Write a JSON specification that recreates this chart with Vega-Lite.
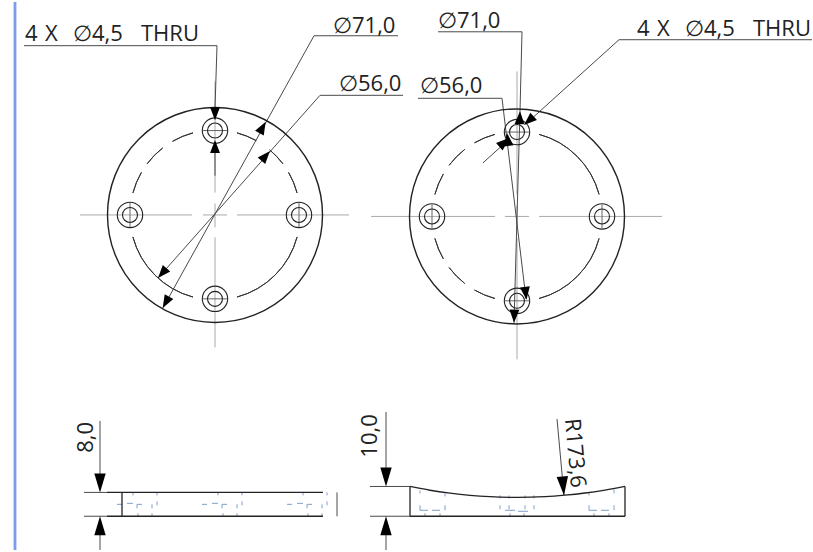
{"$schema":"https://vega.github.io/schema/vega-lite/v6.json","width":813,"height":552,"padding":0,"autosize":{"type":"fit","contains":"padding"},"background":"white","config":{"view":{"stroke":null}},
"datasets":{
"bar":[{"x":15,"y":0,"x2":15,"y2":552}],
"bigCircle":[{"x":215,"y":214.5},{"x":517,"y":216}],
"holes":[{"x":215,"y":129.5},{"x":215,"y":299},{"x":130,"y":214.5},{"x":299,"y":214.5},{"x":517,"y":131},{"x":517,"y":301},{"x":432,"y":216},{"x":602,"y":216}],
"arcs":[{"x":215,"y":214.5,"a":15,"b":29},{"x":215,"y":214.5,"a":40,"b":53},{"x":215,"y":214.5,"a":60,"b":75},{"x":215,"y":214.5,"a":105,"b":165},{"x":215,"y":214.5,"a":195,"b":255},{"x":215,"y":214.5,"a":285,"b":300},{"x":215,"y":214.5,"a":307,"b":322},{"x":215,"y":214.5,"a":330,"b":345},{"x":517,"y":216,"a":15,"b":75},{"x":517,"y":216,"a":105,"b":165},{"x":517,"y":216,"a":195,"b":210},{"x":517,"y":216,"a":218,"b":233},{"x":517,"y":216,"a":240,"b":255},{"x":517,"y":216,"a":285,"b":300},{"x":517,"y":216,"a":307,"b":322},{"x":517,"y":216,"a":330,"b":345}],
"centerLines":[{"x":80,"y":214.5,"x2":192,"y2":214.5},{"x":203,"y":214.5,"x2":227,"y2":214.5},{"x":237,"y":214.5,"x2":349,"y2":214.5},{"x":215,"y":80,"x2":215,"y2":192},{"x":215,"y":203,"x2":215,"y2":227},{"x":215,"y":237,"x2":215,"y2":348},{"x":371,"y":216,"x2":495,"y2":216},{"x":505,"y":216,"x2":529,"y2":216},{"x":539,"y":216,"x2":662,"y2":216},{"x":517,"y":70,"x2":517,"y2":194},{"x":517,"y":205,"x2":517,"y2":228},{"x":517,"y":238,"x2":517,"y2":360}],
"crosses":[{"x":203,"y":129.5,"x2":227,"y2":129.5},{"x":203,"y":299,"x2":227,"y2":299},{"x":130,"y":202,"x2":130,"y2":227},{"x":299,"y":202,"x2":299,"y2":227},{"x":505,"y":131,"x2":529,"y2":131},{"x":505,"y":301,"x2":529,"y2":301},{"x":432,"y":204,"x2":432,"y2":228},{"x":602,"y":204,"x2":602,"y2":228}],
"leaders":[{"x":24,"y":44,"x2":217,"y2":44},{"x":217,"y":44,"x2":215,"y2":107},{"x":215,"y":152,"x2":215,"y2":175},{"x":398,"y":34,"x2":314,"y2":34},{"x":314,"y":34,"x2":163,"y2":308},{"x":403,"y":94,"x2":320,"y2":94},{"x":320,"y":94,"x2":158,"y2":278},{"x":438,"y":30,"x2":522,"y2":30},{"x":522,"y":30,"x2":520,"y2":110},{"x":520,"y":110,"x2":514,"y2":323},{"x":418,"y":97,"x2":502,"y2":97},{"x":502,"y":97,"x2":526,"y2":299},{"x":812,"y":38,"x2":619,"y2":38},{"x":619,"y":38,"x2":530,"y2":119},{"x":505,"y":142,"x2":483,"y2":162},{"x":100,"y":422,"x2":100,"y2":476},{"x":100,"y":536,"x2":100,"y2":552},{"x":386,"y":413,"x2":386,"y2":470},{"x":386,"y":536,"x2":386,"y2":552},{"x":557,"y":420,"x2":564,"y2":497},{"x":84,"y":494,"x2":107,"y2":494},{"x":84,"y":518,"x2":107,"y2":518},{"x":370,"y":488,"x2":410,"y2":488},{"x":370,"y":518,"x2":410,"y2":518},{"x":337,"y":494,"x2":337,"y2":518}],
"objects":[{"x":107,"y":494,"x2":323,"y2":494},{"x":107,"y":518,"x2":323,"y2":518},{"x":122,"y":494,"x2":122,"y2":518},{"x":410,"y":518,"x2":625,"y2":518},{"x":410,"y":488,"x2":410,"y2":518},{"x":625,"y":488,"x2":625,"y2":518}],
"curve":[{"x":410,"y":488},{"x":430,"y":491.8},{"x":450,"y":494.7},{"x":470,"y":496.9},{"x":490,"y":498.3},{"x":517,"y":499},{"x":545,"y":498.3},{"x":565,"y":496.8},{"x":585,"y":494.6},{"x":605,"y":491.6},{"x":625,"y":488}],
"hidden":[{"x":133,"y":494,"x2":133,"y2":497},{"x":157,"y":494,"x2":157,"y2":497},{"x":117,"y":506,"x2":122,"y2":506},{"x":127,"y":505,"x2":133,"y2":505},{"x":137,"y":506,"x2":142,"y2":506},{"x":137,"y":506,"x2":137,"y2":510},{"x":152,"y":506,"x2":152,"y2":510},{"x":157,"y":503,"x2":157,"y2":507},{"x":138,"y":515,"x2":138,"y2":518},{"x":152,"y":515,"x2":152,"y2":518},
{"x":218,"y":494,"x2":218,"y2":497},{"x":242,"y":494,"x2":242,"y2":497},{"x":202,"y":506,"x2":207,"y2":506},{"x":212,"y":505,"x2":218,"y2":505},{"x":222,"y":506,"x2":227,"y2":506},{"x":222,"y":506,"x2":222,"y2":510},{"x":237,"y":506,"x2":237,"y2":510},{"x":242,"y":503,"x2":242,"y2":507},{"x":223,"y":515,"x2":223,"y2":518},{"x":237,"y":515,"x2":237,"y2":518},
{"x":303,"y":494,"x2":303,"y2":497},{"x":327,"y":494,"x2":327,"y2":497},{"x":287,"y":506,"x2":292,"y2":506},{"x":297,"y":505,"x2":303,"y2":505},{"x":307,"y":506,"x2":312,"y2":506},{"x":307,"y":506,"x2":307,"y2":510},{"x":322,"y":506,"x2":322,"y2":510},{"x":327,"y":503,"x2":327,"y2":507},{"x":308,"y":515,"x2":308,"y2":518},{"x":322,"y":515,"x2":322,"y2":518},
{"x":420,"y":492,"x2":420,"y2":495},{"x":445,"y":495,"x2":445,"y2":498},{"x":420,"y":507,"x2":420,"y2":512},{"x":420,"y":512,"x2":428,"y2":512},{"x":432,"y":512,"x2":440,"y2":512},{"x":445,"y":507,"x2":445,"y2":512},{"x":425,"y":515,"x2":425,"y2":518},{"x":440,"y":515,"x2":440,"y2":518},
{"x":500,"y":497,"x2":500,"y2":500},{"x":509,"y":497,"x2":509,"y2":500},{"x":525,"y":497,"x2":525,"y2":500},{"x":534,"y":497,"x2":534,"y2":500},{"x":500,"y":507,"x2":500,"y2":511},{"x":534,"y":507,"x2":534,"y2":511},{"x":509,"y":507,"x2":509,"y2":511},{"x":525,"y":507,"x2":525,"y2":511},{"x":505,"y":512,"x2":515,"y2":512},{"x":518,"y":513,"x2":528,"y2":513},{"x":510,"y":515,"x2":510,"y2":518},{"x":524,"y":515,"x2":524,"y2":518},
{"x":589,"y":494,"x2":589,"y2":497},{"x":614,"y":491,"x2":614,"y2":495},{"x":589,"y":507,"x2":589,"y2":512},{"x":589,"y":512,"x2":597,"y2":512},{"x":601,"y":512,"x2":609,"y2":512},{"x":614,"y":507,"x2":614,"y2":512},{"x":594,"y":515,"x2":594,"y2":518},{"x":609,"y":515,"x2":609,"y2":518}],
"smallArrows":[{"x":215,"y":119,"dir":180},{"x":215,"y":139,"dir":0},{"x":265.7,"y":120.7,"dir":29},{"x":162.7,"y":308.3,"dir":209},{"x":270,"y":150,"dir":41},{"x":158,"y":278,"dir":221},{"x":520,"y":110,"dir":2},{"x":514,"y":323,"dir":182},{"x":507,"y":132,"dir":353},{"x":526.5,"y":300,"dir":173},{"x":524,"y":124,"dir":228},{"x":509,"y":137,"dir":48}],
"bigArrows":[{"x":100,"y":494,"dir":180},{"x":100,"y":518,"dir":0},{"x":386,"y":488,"dir":180},{"x":386,"y":518,"dir":0},{"x":564,"y":497,"dir":175}],
"labels":[{"x":25,"y":39.5,"t":"4"},{"x":45,"y":39.5,"t":"X"},{"x":73,"y":39.5,"t":"∅4,5"},{"x":141,"y":39.5,"t":"THRU"},{"x":333,"y":31.5,"t":"∅71,0"},{"x":339,"y":90,"t":"∅56,0"},{"x":438,"y":26,"t":"∅71,0"},{"x":420,"y":92,"t":"∅56,0"},{"x":637,"y":34,"t":"4"},{"x":657,"y":34,"t":"X"},{"x":685,"y":34,"t":"∅4,5"},{"x":753,"y":34,"t":"THRU"}],
"labelsUp":[{"x":93,"y":454,"t":"8,0"},{"x":377,"y":459,"t":"10,0"}],
"labelsSlant":[{"x":565,"y":420,"t":"R173,6"}]
},
"encoding":{"x":{"field":"x","type":"quantitative","scale":{"domain":[0,813],"nice":false,"zero":false},"axis":null},"y":{"field":"y","type":"quantitative","scale":{"domain":[552,0],"nice":false,"zero":false},"axis":null}},
"layer":[
{"data":{"name":"bar"},"mark":{"type":"rule","stroke":"#7a9ee8","strokeWidth":2.8},"encoding":{"x2":{"field":"x2"},"y2":{"field":"y2"}}},
{"data":{"name":"centerLines"},"mark":{"type":"rule","stroke":"#aaaaaa","strokeWidth":1},"encoding":{"x2":{"field":"x2"},"y2":{"field":"y2"}}},
{"data":{"name":"crosses"},"mark":{"type":"rule","stroke":"#555555","strokeWidth":0.9},"encoding":{"x2":{"field":"x2"},"y2":{"field":"y2"}}},
{"data":{"name":"hidden"},"mark":{"type":"rule","stroke":"#7f9fca","strokeWidth":1},"encoding":{"x2":{"field":"x2"},"y2":{"field":"y2"}}},
{"data":{"name":"objects"},"mark":{"type":"rule","stroke":"#222222","strokeWidth":1.3},"encoding":{"x2":{"field":"x2"},"y2":{"field":"y2"}}},
{"data":{"name":"curve"},"mark":{"type":"line","stroke":"#222222","strokeWidth":1.3,"interpolate":"monotone"}},
{"data":{"name":"leaders"},"mark":{"type":"rule","stroke":"#4a4a4a","strokeWidth":1},"encoding":{"x2":{"field":"x2"},"y2":{"field":"y2"}}},
{"data":{"name":"bigCircle"},"mark":{"type":"point","shape":"circle","filled":false,"stroke":"#222222","strokeWidth":1.4,"size":46225,"opacity":1}},
{"data":{"name":"holes"},"mark":{"type":"point","shape":"circle","filled":false,"stroke":"#222222","strokeWidth":1.1,"size":645,"opacity":1}},
{"data":{"name":"holes"},"mark":{"type":"point","shape":"circle","filled":false,"stroke":"#222222","strokeWidth":1.1,"size":225,"opacity":1}},
{"data":{"name":"arcs"},"mark":{"type":"arc","radius":85,"radius2":85,"fill":null,"stroke":"#333333","strokeWidth":1},"encoding":{"theta":{"field":"a","type":"quantitative","scale":{"domain":[0,360],"range":[0,6.283185],"zero":false,"nice":false}},"theta2":{"field":"b"}}},
{"data":{"name":"smallArrows"},"mark":{"type":"point","shape":"M0,0L0.38,1L-0.38,1Z","filled":true,"fill":"#000000","strokeWidth":0,"size":676,"opacity":1},"encoding":{"angle":{"field":"dir","type":"quantitative","scale":null}}},
{"data":{"name":"bigArrows"},"mark":{"type":"point","shape":"M0,0L0.3,1L-0.3,1Z","filled":true,"fill":"#000000","strokeWidth":0,"size":1444,"opacity":1},"encoding":{"angle":{"field":"dir","type":"quantitative","scale":null}}},
{"data":{"name":"labels"},"mark":{"type":"text","font":"Open Sans","fontSize":22,"align":"left","baseline":"alphabetic","fill":"#222222"},"encoding":{"text":{"field":"t"}}},
{"data":{"name":"labelsUp"},"mark":{"type":"text","font":"Open Sans","fontSize":22,"align":"left","baseline":"alphabetic","angle":270,"fill":"#222222"},"encoding":{"text":{"field":"t"}}},
{"data":{"name":"labelsSlant"},"mark":{"type":"text","font":"Open Sans","fontSize":22,"align":"left","baseline":"alphabetic","angle":85,"fill":"#222222"},"encoding":{"text":{"field":"t"}}}
]}
